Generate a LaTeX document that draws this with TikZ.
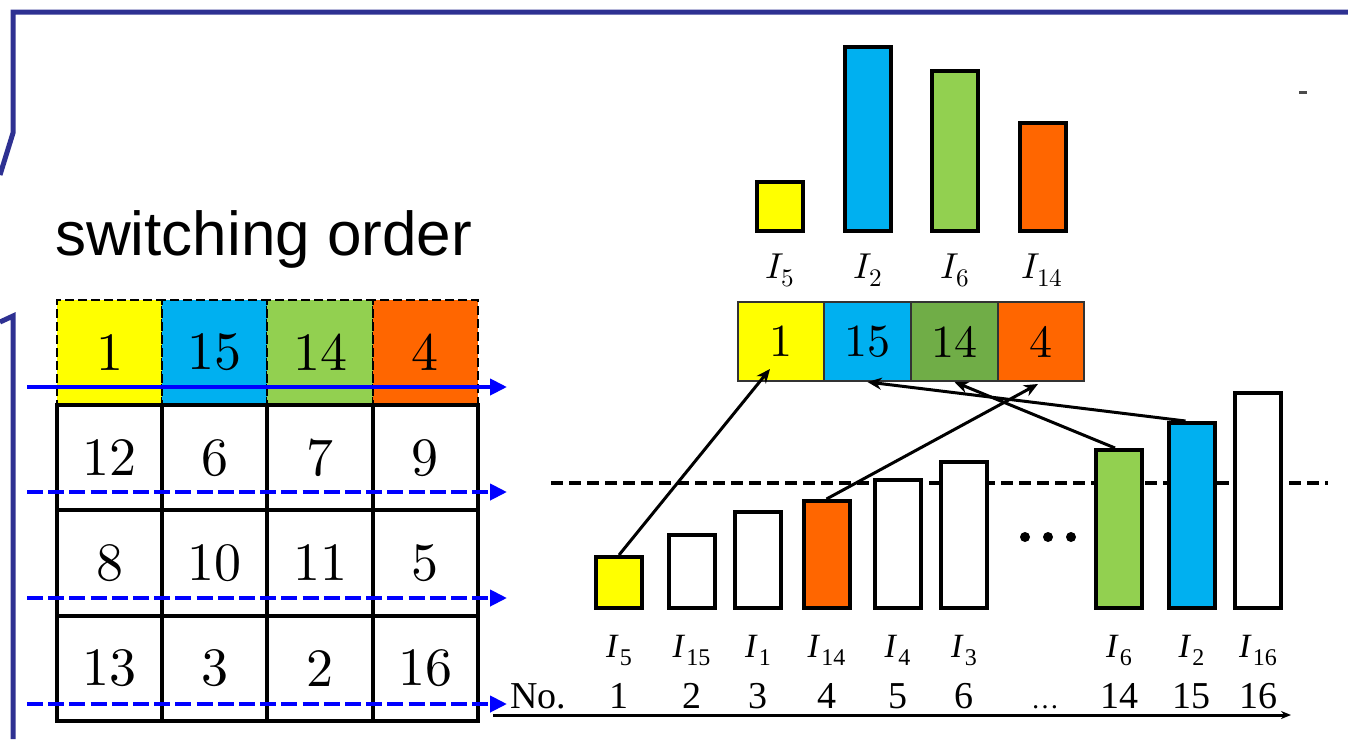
\documentclass[tikz,border=0pt]{standalone}
\usepackage{fontspec}
\usepackage{unicode-math}
\setmathfont{Latin Modern Math}
\usepackage{tikz}
\usetikzlibrary{arrows.meta, calc}
\newfontfamily\arialfont{Liberation Sans}
\newfontfamily\timesfont{Liberation Serif}
\definecolor{frameblue}{RGB}{46,49,146}
\definecolor{scanblue}{RGB}{0,0,255}
\definecolor{cyellow}{RGB}{255,255,0}
\definecolor{cblue}{RGB}{0,176,240}
\definecolor{cgreen}{RGB}{146,208,80}
\definecolor{cdarkgreen}{RGB}{112,173,71}
\definecolor{corange}{RGB}{255,102,0}
\newcommand{\tcur}[1]{\textit{I}\kern0.5pt\raisebox{-4pt}{\fontsize{12}{12}\selectfont #1}}
\tikzset{
  gridcell/.style={
    draw, line width=2pt, minimum size=52.6pt, inner sep=0pt,
    font=\fontsize{27}{27}\selectfont
  },
  topcell/.style={gridcell, line width=1pt, dash pattern=on 4.5pt off 2pt, fill=#1},
  stripcell/.style={
    draw=black!80, line width=1pt, minimum width=43.25pt, minimum height=39.5pt,
    inner sep=0pt, fill=#1, font=\fontsize{23}{23}\selectfont
  },
  bar/.style={draw, line width=2pt, minimum width=23pt, inner sep=0pt, anchor=south, fill=#1},
  bar/.default=white,
  toplabel/.style={anchor=base, font=\fontsize{18}{18}\selectfont},
  curlabel/.style={anchor=base, font=\timesfont\fontsize{17}{17}\selectfont},
  nolabel/.style={anchor=base, font=\timesfont\fontsize{19}{19}\selectfont},
  scan/.style={draw=scanblue, line width=2pt, -{Triangle[length=8.5pt,width=8pt]}},
  scandash/.style={scan, dash pattern=on 8pt off 2.6pt},
  link/.style={line width=1.5pt, -{Stealth[length=7pt,width=6pt]}},
  frameline/.style={draw=frameblue, line width=2.5pt},
}
\begin{document}
\begin{tikzpicture}[x=0.5pt, y=-0.5pt]
  \useasboundingbox (0,0) rectangle (1348,739);

  % frame
  \draw[frameline] (1348,12) -- (13,12) -- (13,133) -- (0,175);
  \draw[frameline] (0,322) -- (13,316) -- (13,739);
  \draw[black!70, line width=1.5pt] (1299,92) -- (1307,92);

  % switching order grid
  \node[anchor=base west, font=\arialfont\fontsize{31}{31}\selectfont] (title) at (48,255) {switching order};
  \foreach \v/\c [count=\i] in {1/cyellow,15/cblue,14/cgreen,4/corange}
    \node[topcell=\c] (cell-1-\i) at (4.25+105.25*\i,352.5) {$\v$};
  \foreach \r/\vals in {2/{12,6,7,9},3/{8,10,11,5},4/{13,3,2,16}}
    \foreach \v [count=\i] in \vals
      \node[gridcell] (cell-\r-\i) at (4.25+105.25*\i,247.25+105.25*\r) {$\v$};

  \foreach \y [count=\r] in {387,492,598,704} {
    \coordinate (scanL\r) at (27,\y);
    \coordinate (scanR\r) at (507,\y);
  }
  \draw[scan] (scanL1) -- (scanR1);
  \foreach \r in {2,3,4}
    \draw[scandash] (scanL\r) -- (scanR\r);

  % largest currents
  \foreach \n/\x/\h/\c in {5/780/24.5/cyellow, 2/868/92/cblue, 6/955/80/cgreen, 14/1042.5/54/corange} {
    \node[bar=\c, minimum height=\h pt] (top\n) at (\x,233) {};
    \node[toplabel] (toplab\n) at ($(top\n.south)+(0,45)$) {$I_{\n}$};
  }
  \foreach \n/\c/\x in {1/cyellow/781, 15/cblue/867.5, 14/cdarkgreen/954.5, 4/corange/1041}
    \node[stripcell=\c] (s\n) at (\x,341.5) {$\n$};

  % sorted currents
  \coordinate (thrL) at (551,483);
  \coordinate (thrR) at (1328,483);
  \draw[line width=2pt, dash pattern=on 6pt off 3pt] (thrL) -- (thrR);
  \foreach \n/\x/\h/\c/\s in {1/619/25.5/cyellow/5, 2/691.5/36.5/white/15, 3/758/48/white/1,
      4/826.5/53.5/corange/14, 5/897.5/64/white/4, 6/964/73/white/3,
      14/1119/79/cgreen/6, 15/1191.5/92.5/cblue/2, 16/1258/107.5/white/16} {
    \node[bar=\c, minimum height=\h pt] (bar\n) at (\x,610) {};
    \node[curlabel] (cur\n) at ($(bar\n.south)+(0,47)$) {\tcur{\s}};
    \node[nolabel] (no\n) at ($(bar\n.south)+(0,98)$) {\n};
  }
  \foreach \x in {1025,1048,1071}
    \fill (\x,537) circle (2.5pt);
  \node[nolabel, font=\timesfont\fontsize{14}{14}\selectfont] (skip) at (1045,708) {…};

  \coordinate (axisL) at (493,715);
  \coordinate (axisR) at (1291,715);
  \draw[line width=1.5pt, -{Stealth[length=5pt,width=4pt]}] (axisL) -- (axisR);
  \node[nolabel, anchor=base west] (nolab) at (503,708) {No.};

  \draw[link] (bar1.north) -- ([xshift=-5.5pt,yshift=6.5pt]s1.south);
  \draw[link] (bar4.north) -- ([xshift=-1.5pt,yshift=-1pt]s4.south);
  \draw[link] ([xshift=-2pt]bar14.north) -- (s14.south);
  \draw[link] ([xshift=-3pt]bar15.north) -- (s15.south);
\end{tikzpicture}
\end{document}
